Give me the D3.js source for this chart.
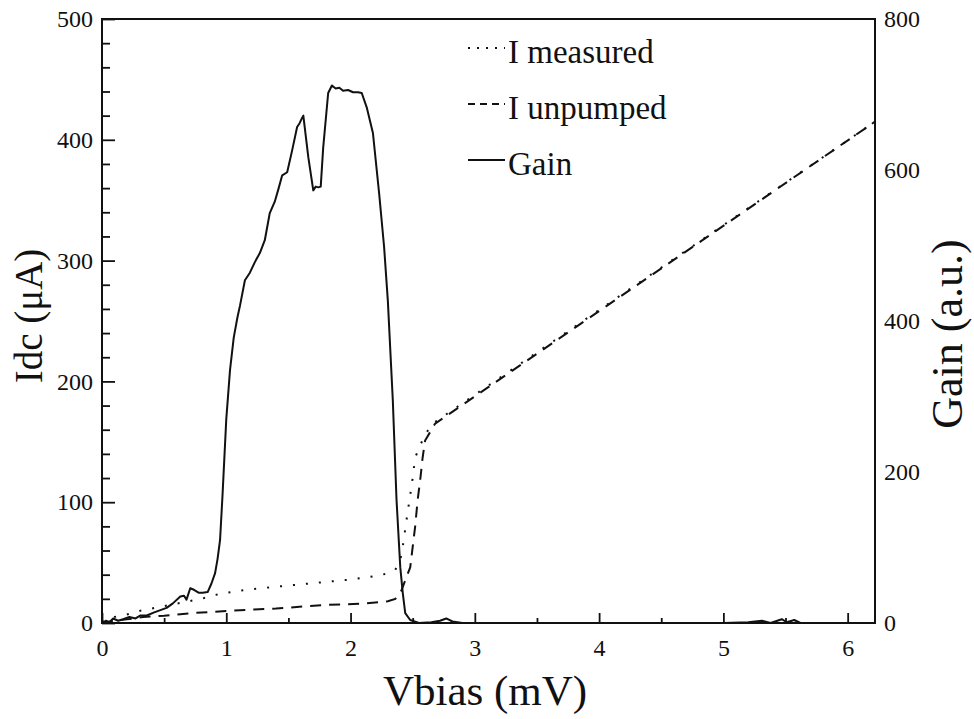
<meta charset="utf-8">
<title>Idc and Gain vs Vbias</title>
<style>
  body { margin: 0; background: #fff; }
  text { font-family: "Liberation Serif", "DejaVu Serif", serif; fill: #111; }
</style>
<svg width="974" height="719"></svg>
<script src="https://d3js.org/d3.v7.min.js"></script>
<script>

// ---- data ----
// Vbias (mV) and Idc (uA) for the measured (pumped) current
var measuredV = [0, 0.05, 0.1, 0.2, 0.3, 0.4, 0.5, 0.6, 0.7, 0.8, 0.9, 1.0, 1.2, 1.4, 1.6, 1.8, 2.0, 2.15, 2.3, 2.36, 2.40, 2.42, 2.45, 2.48, 2.50, 2.52, 2.56, 2.60, 2.66, 6.22];
var measuredI = [1, 3, 5, 7, 10, 12, 14, 16, 18, 20, 23, 25, 28, 30, 32, 34, 36, 38, 41, 44, 52, 63, 85, 106, 120, 137, 147, 156, 165, 415];

// unpumped current
var unpumpedV = [0, 0.1, 0.2, 0.33, 0.5, 0.7, 1.0, 1.4, 1.8, 2.1, 2.3, 2.36, 2.41, 2.45, 2.48, 2.50, 2.52, 2.54, 2.56, 2.58, 2.60, 2.64, 2.68, 6.22];
var unpumpedI = [0, 2, 3, 5, 6, 8, 10, 12, 15, 16, 18, 20, 27, 38, 46, 63, 80, 102, 118, 137, 151, 158, 165, 415];

// gain (a.u.) on the right axis
var gainV = [0, 0.03, 0.06, 0.09, 0.13, 0.17, 0.22, 0.27, 0.31, 0.36, 0.42, 0.47, 0.52, 0.57, 0.63, 0.66, 0.68, 0.71, 0.74, 0.78, 0.81, 0.85, 0.88, 0.91, 0.93, 0.95, 0.97, 1.00, 1.03, 1.06, 1.09, 1.11, 1.15, 1.19, 1.23, 1.27, 1.31, 1.35, 1.39, 1.42, 1.45, 1.49, 1.53, 1.57, 1.59, 1.61, 1.62, 1.66, 1.70, 1.72, 1.74, 1.76, 1.78, 1.82, 1.85, 1.88, 1.91, 1.94, 1.98, 2.02, 2.06, 2.09, 2.13, 2.18, 2.23, 2.27, 2.30, 2.34, 2.37, 2.40, 2.42, 2.44, 2.48, 2.55, 2.65, 2.72, 2.77, 2.82, 2.9, 3.5, 4.5, 5.0, 5.2, 5.31, 5.38, 5.47, 5.51, 5.57, 5.62, 6.22];
var gainG = [0, 3, 1, 6, 3, 5, 8, 6, 10, 10, 14, 17, 20, 26, 35, 36, 31, 46, 44, 40, 40, 41, 52, 66, 85, 110, 170, 270, 335, 378, 405, 420, 454, 464, 478, 490, 507, 543, 558, 575, 593, 597, 626, 657, 662, 669, 672, 617, 573, 578, 577, 578, 630, 702, 712, 708, 709, 705, 706, 703, 703, 702, 683, 649, 569, 498, 427, 295, 163, 74, 40, 13, 4, 0, 1, 3, 6, 2, 0, 0, 0, 0, 1, 3, 0, 5, 1, 4, 0, 0];

var xTicks = [0, 1, 2, 3, 4, 5, 6];
var leftTicks = [0, 100, 200, 300, 400, 500];
var rightTicks = [0, 200, 400, 600, 800];

var legendNames = ["I measured", "I unpumped", "Gain"];

// ---- layout ----
var svg = d3.select("svg");
// note: "top" is taken by window.top, so use plot* names
var plotL = 102, plotR = 875, plotT = 19, plotB = 623;

var x = d3.scaleLinear().domain([0, 6.22]).range([plotL, plotR]);
var yI = d3.scaleLinear().domain([0, 500]).range([plotB, plotT]);
var yG = d3.scaleLinear().domain([0, 800]).range([plotB, plotT]);

// minor ticks
var xMinor = d3.range(0.5, 6.2, 1);
var yMinor = d3.range(0, 501, 20).filter(function(v) { return v % 100 != 0; });

// each axis call gets its own g, otherwise the second call wipes the first one's ticks
svg.append("g").attr("transform", "translate(0," + plotB + ")")
  .call(d3.axisBottom(x).tickValues(xMinor).tickSize(-5).tickFormat(""));
svg.append("g").attr("transform", "translate(0," + plotB + ")")
  .call(d3.axisBottom(x).tickValues(xTicks).tickSize(-10).tickPadding(16).tickFormat(d3.format("d")));

svg.append("g").attr("transform", "translate(" + plotL + ",0)")
  .call(d3.axisLeft(yI).tickValues(yMinor).tickSize(-8).tickFormat(""));
svg.append("g").attr("transform", "translate(" + plotL + ",0)")
  .call(d3.axisLeft(yI).tickValues(leftTicks).tickSize(-13).tickPadding(9).tickFormat(d3.format("d")));

svg.append("g").attr("transform", "translate(" + plotR + ",0)")
  .call(d3.axisRight(yG).tickValues(rightTicks).tickSize(0).tickPadding(9).tickFormat(d3.format("d")));

svg.selectAll(".domain").remove();
svg.selectAll(".tick line").attr("stroke", "#111").attr("stroke-width", 1.8);
svg.selectAll("g").attr("font-size", null).attr("font-family", null);
svg.selectAll(".tick text").style("font-size", "24px").attr("fill", "#111");

// frame
svg.append("rect")
  .attr("x", plotL).attr("y", plotT)
  .attr("width", plotR - plotL).attr("height", plotB - plotT)
  .attr("fill", "none").attr("stroke", "#111").attr("stroke-width", 2);

// ---- curves ----
function pairs(xs, ys) {
  return xs.map(function(v, i) { return [v, ys[i]]; });
}

var lineI = d3.line().x(function(d) { return x(d[0]); }).y(function(d) { return yI(d[1]); });
var lineG = d3.line().x(function(d) { return x(d[0]); }).y(function(d) { return yG(d[1]); });

svg.append("path")
  .attr("d", lineI(pairs(unpumpedV, unpumpedI)))
  .attr("fill", "none").attr("stroke", "#111").attr("stroke-width", 2)
  .attr("stroke-dasharray", "11,8");

svg.append("path")
  .attr("d", lineI(pairs(measuredV, measuredI)))
  .attr("fill", "none").attr("stroke", "#111").attr("stroke-width", 2)
  .attr("stroke-dasharray", "2,11");

svg.append("path")
  .attr("d", lineG(pairs(gainV, gainG)))
  .attr("fill", "none").attr("stroke", "#111").attr("stroke-width", 2)
  .attr("stroke-linejoin", "round");

// ---- legend ----
var legendDash = ["2,7", "7,5", null];
var legendY = [63, 119, 175];

legendNames.forEach(function(name, i) {
  svg.append("line")
    .attr("x1", 468).attr("x2", 505)
    .attr("y1", legendY[i] - 15).attr("y2", legendY[i] - 15)
    .attr("stroke", "#111").attr("stroke-width", 2)
    .attr("stroke-dasharray", legendDash[i]);
  svg.append("text")
    .attr("x", 508).attr("y", legendY[i])
    .style("font-size", "33px")
    .text(name);
});

// ---- axis titles ----
svg.append("text")
  .attr("x", 485).attr("y", 705)
  .attr("text-anchor", "middle")
  .style("font-size", "43px")
  .text("Vbias (mV)");

svg.append("text")
  .attr("transform", "translate(42,316) rotate(-90)")
  .attr("text-anchor", "middle")
  .style("font-size", "39px")
  .text("Idc (μA)");

svg.append("text")
  .attr("transform", "translate(962,334) rotate(-90)")
  .attr("text-anchor", "middle")
  .style("font-size", "44px")
  .text("Gain (a.u.)");

</script>
